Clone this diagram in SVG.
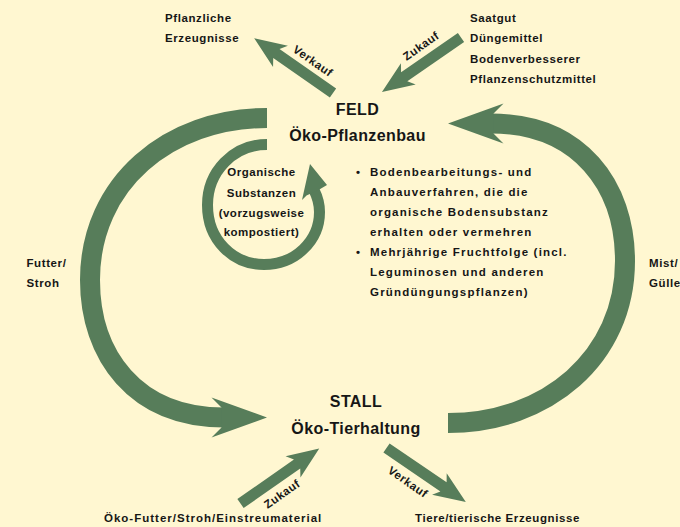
<svg xmlns="http://www.w3.org/2000/svg" xmlns:xlink="http://www.w3.org/1999/xlink" width="680" height="527" viewBox="0 0 680 527">
<style>
text{font-family:"Liberation Sans",Arial,sans-serif;font-weight:bold;fill:#161616;font-size:11.5px;letter-spacing:0.6px}
.t{font-size:16px;letter-spacing:0.4px;text-anchor:middle}
.b{letter-spacing:1.2px}
.c{text-anchor:middle;letter-spacing:0.5px}
.bt{letter-spacing:1px}
.g{fill:#577d5a}
.s{fill:none;stroke:#577d5a}
</style>
<defs>
<path id="sa" d="M0,-5.5 H69 L64,-13 L96,0 L64,13 L69,5.5 H0 Z"/>
<g id="big">
<path class="s" stroke-width="20" d="M267,118 C169,118 90,183 90,280 C90,355 135,417.5 224,417.5"/>
<polygon class="g" points="267,417.5 211.5,397.5 221.5,407.5 221.5,427.5 211.5,437.5"/>
</g>
</defs>
<rect width="680" height="527" fill="#fff7d1"/>
<g id="connectors">
<use id="futter-arrow" xlink:href="#big" href="#big"/>
<use id="mist-arrow" xlink:href="#big" href="#big" transform="rotate(180 357.5 270.5)"/>
<g id="organic-arrow">
<path class="s" stroke-width="11" d="M267,144.5 C233,144.5 207.5,172 207.5,205 C207.5,240 233,264.5 264,264.5 C295,264.5 319.5,241 319.5,212 C319.5,204 317.5,197 314,190"/>
<polygon class="g" points="310,164 327,185 318.5,190 306.5,195.5 302,200"/>
</g>
<use class="g" xlink:href="#sa" href="#sa" transform="translate(333,93) rotate(214.85)"/>
<use class="g" xlink:href="#sa" href="#sa" transform="translate(461,37.5) rotate(145.4)"/>
<use class="g" xlink:href="#sa" href="#sa" transform="translate(240.5,503.5) rotate(-34.9)"/>
<use class="g" xlink:href="#sa" href="#sa" transform="translate(386.5,448) rotate(34.3)"/>
<text transform="translate(313,61) rotate(35)" y="4" text-anchor="middle">Verkauf</text>
<text transform="translate(421,46) rotate(-35)" y="4" text-anchor="middle">Zukauf</text>
<text transform="translate(282,494) rotate(-35)" y="4" text-anchor="middle">Zukauf</text>
<text transform="translate(408,482) rotate(35)" y="4" text-anchor="middle">Verkauf</text>
</g>
<g id="feld">
<text class="t" x="357.5" y="114.5">FELD</text>
<text class="t" x="357.5" y="140.5">Öko-Pflanzenbau</text>
</g>
<g id="feld-list">
<text x="356" y="176">•</text>
<text class="b" x="370" y="176">Bodenbearbeitungs- und</text>
<text class="b" x="370" y="196">Anbauverfahren, die die</text>
<text class="b" x="370" y="216">organische Bodensubstanz</text>
<text class="b" x="370" y="236">erhalten oder vermehren</text>
<text x="356" y="256">•</text>
<text class="b" x="370" y="256">Mehrjährige Fruchtfolge (incl.</text>
<text class="b" x="370" y="276">Leguminosen und anderen</text>
<text class="b" x="370" y="296">Gründüngungspflanzen)</text>
</g>
<g id="stall">
<text class="t" x="356" y="407">STALL</text>
<text class="t" x="356" y="434">Öko-Tierhaltung</text>
</g>
<g id="organic">
<text class="c" x="261.5" y="175.5">Organische</text>
<text class="c" x="261.5" y="196.5">Substanzen</text>
<text class="c" x="261.5" y="216.5">(vorzugsweise</text>
<text class="c" x="261.5" y="235.5">kompostiert)</text>
</g>
<g id="pflanzliche">
<text x="165" y="22">Pflanzliche</text>
<text x="165" y="42">Erzeugnisse</text>
</g>
<g id="zukauf-feld">
<text x="470" y="22">Saatgut</text>
<text x="470" y="42">Düngemittel</text>
<text x="470" y="62.5">Bodenverbesserer</text>
<text x="470" y="83">Pflanzenschutzmittel</text>
</g>
<g id="futter">
<text x="26.5" y="267">Futter/</text>
<text x="26.5" y="287">Stroh</text>
</g>
<g id="mist">
<text x="649" y="267">Mist/</text>
<text x="649" y="287">Gülle</text>
</g>
<g id="zukauf-stall">
<text class="bt" x="104" y="522">Öko-Futter/Stroh/Einstreumaterial</text>
</g>
<g id="verkauf-stall">
<text x="415" y="522">Tiere/tierische Erzeugnisse</text>
</g>
</svg>
